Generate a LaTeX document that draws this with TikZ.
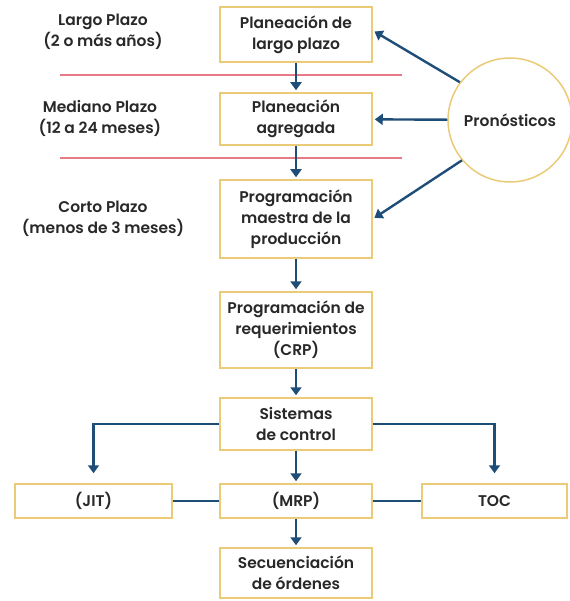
\documentclass[tikz,border=0pt]{standalone}
\usepackage{fontspec}
\setmainfont{Poppins SemiBold}
\usepackage{tikz}
\usetikzlibrary{arrows.meta, positioning, calc}
\usepackage{xcolor}
\definecolor{boxgold}{RGB}{236, 203, 120}
\definecolor{arrowblue}{RGB}{30, 77, 120}
\definecolor{sepred}{RGB}{232, 122, 134}
\definecolor{textgray}{RGB}{40, 40, 40}

\begin{document}
\begin{tikzpicture}[
    x=1pt, y=-1pt,
    font=\fontsize{15.5}{21}\selectfont, text=textgray,
    box/.style={rectangle, draw=boxgold, fill=white, line width=1.5pt, minimum width=152pt, text centered, align=center, inner sep=2pt},
    horizon/.style={align=center},
    arrow/.style={-{Triangle[width=11pt, length=8pt]}, line width=2.4pt, arrowblue, shorten >=2pt},
    link/.style={line width=2.4pt, arrowblue},
    sep/.style={line width=1.2pt, sepred}
]
    \useasboundingbox (0,0) rectangle (569,601);

    % Horizons
    \node[horizon] (largo) at (103,32) {Largo Plazo\\(2 o más años)};
    \node[horizon] (mediano) at (100,118) {Mediano Plazo\\(12 a 24 meses)};
    \node[horizon] (corto) at (103,219) {Corto Plazo\\(menos de 3 meses)};

    % Separators
    \draw[sep] (60,75) -- (402,75);
    \draw[sep] (60,158) -- (402,158);

    % Boxes
    \node[box, minimum height=55pt] (largoplazo) at (296,34.5) {Planeación de\\largo plazo};
    \node[box, minimum height=52pt] (agregada) at (296,119) {Planeación\\agregada};
    \node[box, minimum height=78pt] (maestra) at (296,219) {Programación\\maestra de la\\producción};
    \node[box, minimum height=76pt] (crp) at (296,330) {Programación de\\requerimientos\\(CRP)};
    \node[box, minimum height=52pt] (control) at (296,424) {Sistemas\\de control};
    \node[box, minimum width=157pt, minimum height=34pt] (jit) at (93.5,501) {(JIT)};
    \node[box, minimum height=34pt] (mrp) at (296,501) {(MRP)};
    \node[box, minimum width=145pt, minimum height=34pt] (toc) at (494.5,501) {TOC};
    \node[box, minimum height=50pt] (secuencia) at (296,573) {Secuenciación\\de órdenes};
    \node[circle, draw=boxgold, fill=white, line width=1.5pt, minimum size=124pt, inner sep=0pt] (pronosticos) at (510,120) {Pronósticos};

    % Arrows
    \draw[arrow] (largoplazo) -- (agregada);
    \draw[arrow] (agregada) -- (maestra);
    \draw[arrow] (maestra) -- (crp);
    \draw[arrow] (crp) -- (control);
    \draw[arrow] (control) -- (mrp);
    \draw[arrow] (mrp) -- (secuencia);
    \draw[arrow, shorten >=10pt] (control.west) -| (jit.north);
    \draw[arrow, shorten >=10pt] (control.east) -| (toc.north);
    \draw[link] (jit) -- (mrp);
    \draw[link] (mrp) -- (toc);
    \draw[arrow] (pronosticos.143) -- ([yshift=4pt]largoplazo.east);
    \draw[arrow] (pronosticos) -- (agregada);
    \draw[arrow] (pronosticos.220) -- (maestra.east);

\end{tikzpicture}
\end{document}
